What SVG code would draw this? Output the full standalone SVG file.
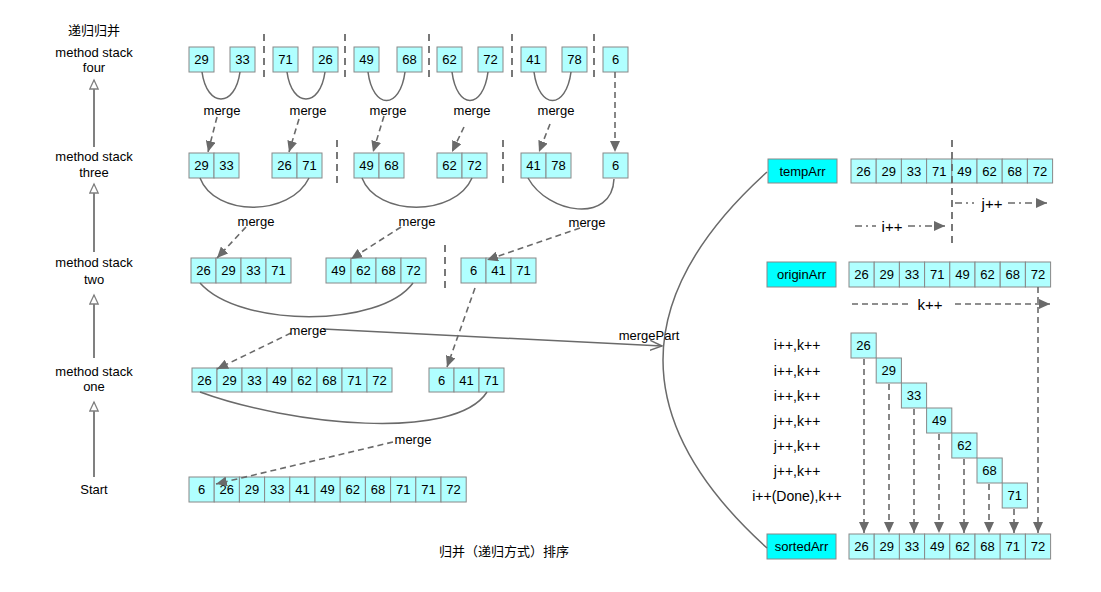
<svg xmlns="http://www.w3.org/2000/svg" width="1101" height="592" viewBox="0 0 1101 592">
<style>
text{font-family:"Liberation Sans","Noto Sans CJK SC",sans-serif;font-size:13px;fill:#000;text-anchor:middle}
.c{fill:#B0FFFF;stroke:#888;stroke-width:1}
.k{fill:#00FFFF;stroke:#888;stroke-width:1}
.big{font-size:15px}
.ops{font-size:14px}
.da{fill:none;stroke:#6A6A6A;stroke-width:1.6;stroke-dasharray:6 4}
.sep{fill:none;stroke:#6A6A6A;stroke-width:1.8;stroke-dasharray:7 5}
.arc{fill:none;stroke:#6A6A6A;stroke-width:1.5}
.dd{fill:none;stroke:#6A6A6A;stroke-width:1.5;stroke-dasharray:7 4 2 4}
.stk{fill:none;stroke:#808080;stroke-width:2}
</style>
<defs>
<marker id="ah" markerUnits="userSpaceOnUse" markerWidth="12" markerHeight="10" refX="11" refY="5" orient="auto"><path d="M0,0 L11,5 L0,10 z" fill="#6A6A6A"/></marker>
<marker id="tri" markerUnits="userSpaceOnUse" markerWidth="12" markerHeight="12" refX="10" refY="5" orient="auto"><path d="M1,0.8 L10,5 L1,9.2 z" fill="#fff" stroke="#808080" stroke-width="1.3"/></marker>
<marker id="vee" markerUnits="userSpaceOnUse" markerWidth="14" markerHeight="12" refX="12" refY="6" orient="auto"><path d="M0,1 L12,6 L0,11" fill="none" stroke="#6A6A6A" stroke-width="1.5"/></marker>
</defs>
<rect width="1101" height="592" fill="#fff"/>

<g id="labels">
<text x="94" y="35">递归归并</text>
<text x="94" y="57">method stack</text><text x="94" y="72">four</text>
<text x="94" y="161">method stack</text><text x="94" y="177">three</text>
<text x="94" y="267">method stack</text><text x="94" y="284">two</text>
<text x="94" y="376">method stack</text><text x="94" y="391">one</text>
<text x="94" y="494">Start</text>
<text x="504" y="556">归并（递归方式）排序</text>
</g>

<g id="row-four">
<rect class="c" x="189" y="47" width="25" height="25"/><text x="201.5" y="64">29</text>
<rect class="c" x="230" y="47" width="25" height="25"/><text x="242.5" y="64">33</text>
<rect class="c" x="273" y="47" width="25" height="25"/><text x="285.5" y="64">71</text>
<rect class="c" x="313" y="47" width="25" height="25"/><text x="325.5" y="64">26</text>
<rect class="c" x="354" y="47" width="25" height="25"/><text x="366.5" y="64">49</text>
<rect class="c" x="397" y="47" width="25" height="25"/><text x="409.5" y="64">68</text>
<rect class="c" x="437" y="47" width="25" height="25"/><text x="449.5" y="64">62</text>
<rect class="c" x="478" y="47" width="25" height="25"/><text x="490.5" y="64">72</text>
<rect class="c" x="521" y="47" width="25" height="25"/><text x="533.5" y="64">41</text>
<rect class="c" x="562" y="47" width="25" height="25"/><text x="574.5" y="64">78</text>
<rect class="c" x="603" y="47" width="25" height="25"/><text x="615.5" y="64">6</text>
</g>

<g id="row-three">
<rect class="c" x="189" y="153" width="25" height="25"/><text x="201.5" y="170">29</text>
<rect class="c" x="214" y="153" width="25" height="25"/><text x="226.5" y="170">33</text>
<rect class="c" x="272" y="153" width="25" height="25"/><text x="284.5" y="170">26</text>
<rect class="c" x="297" y="153" width="25" height="25"/><text x="309.5" y="170">71</text>
<rect class="c" x="354" y="153" width="25" height="25"/><text x="366.5" y="170">49</text>
<rect class="c" x="379" y="153" width="25" height="25"/><text x="391.5" y="170">68</text>
<rect class="c" x="437" y="153" width="25" height="25"/><text x="449.5" y="170">62</text>
<rect class="c" x="462" y="153" width="25" height="25"/><text x="474.5" y="170">72</text>
<rect class="c" x="521" y="153" width="25" height="25"/><text x="533.5" y="170">41</text>
<rect class="c" x="546" y="153" width="25" height="25"/><text x="558.5" y="170">78</text>
<rect class="c" x="603" y="153" width="25" height="25"/><text x="615.5" y="170">6</text>
</g>

<g id="row-two">
<rect class="c" x="191" y="258" width="25" height="25"/><text x="203.5" y="275">26</text>
<rect class="c" x="216" y="258" width="25" height="25"/><text x="228.5" y="275">29</text>
<rect class="c" x="241" y="258" width="25" height="25"/><text x="253.5" y="275">33</text>
<rect class="c" x="266" y="258" width="25" height="25"/><text x="278.5" y="275">71</text>
<rect class="c" x="326" y="258" width="25" height="25"/><text x="338.5" y="275">49</text>
<rect class="c" x="351" y="258" width="25" height="25"/><text x="363.5" y="275">62</text>
<rect class="c" x="376" y="258" width="25" height="25"/><text x="388.5" y="275">68</text>
<rect class="c" x="401" y="258" width="25" height="25"/><text x="413.5" y="275">72</text>
<rect class="c" x="461" y="258" width="25" height="25"/><text x="473.5" y="275">6</text>
<rect class="c" x="486" y="258" width="25" height="25"/><text x="498.5" y="275">41</text>
<rect class="c" x="511" y="258" width="25" height="25"/><text x="523.5" y="275">71</text>
</g>

<g id="row-one">
<rect class="c" x="192" y="368" width="25" height="24"/><text x="204.5" y="385">26</text>
<rect class="c" x="217" y="368" width="25" height="24"/><text x="229.5" y="385">29</text>
<rect class="c" x="242" y="368" width="25" height="24"/><text x="254.5" y="385">33</text>
<rect class="c" x="267" y="368" width="25" height="24"/><text x="279.5" y="385">49</text>
<rect class="c" x="292" y="368" width="25" height="24"/><text x="304.5" y="385">62</text>
<rect class="c" x="317" y="368" width="25" height="24"/><text x="329.5" y="385">68</text>
<rect class="c" x="342" y="368" width="25" height="24"/><text x="354.5" y="385">71</text>
<rect class="c" x="367" y="368" width="25" height="24"/><text x="379.5" y="385">72</text>
<rect class="c" x="429" y="368" width="25" height="24"/><text x="441.5" y="385">6</text>
<rect class="c" x="454" y="368" width="25" height="24"/><text x="466.5" y="385">41</text>
<rect class="c" x="479" y="368" width="25" height="24"/><text x="491.5" y="385">71</text>
</g>

<g id="row-start">
<rect class="c" x="189" y="477" width="25.2" height="25"/><text x="201.6" y="494">6</text>
<rect class="c" x="214.2" y="477" width="25.2" height="25"/><text x="226.8" y="494">26</text>
<rect class="c" x="239.4" y="477" width="25.2" height="25"/><text x="252" y="494">29</text>
<rect class="c" x="264.6" y="477" width="25.2" height="25"/><text x="277.2" y="494">33</text>
<rect class="c" x="289.8" y="477" width="25.2" height="25"/><text x="302.4" y="494">41</text>
<rect class="c" x="315" y="477" width="25.2" height="25"/><text x="327.6" y="494">49</text>
<rect class="c" x="340.2" y="477" width="25.2" height="25"/><text x="352.8" y="494">62</text>
<rect class="c" x="365.4" y="477" width="25.2" height="25"/><text x="378" y="494">68</text>
<rect class="c" x="390.6" y="477" width="25.2" height="25"/><text x="403.2" y="494">71</text>
<rect class="c" x="415.8" y="477" width="25.2" height="25"/><text x="428.4" y="494">71</text>
<rect class="c" x="441" y="477" width="25.2" height="25"/><text x="453.6" y="494">72</text>
</g>

<g id="tempArr">
<rect class="k" x="768" y="159" width="69" height="24"/><text x="802.5" y="175.5">tempArr</text>
<rect class="c" x="851" y="159" width="25.2" height="24"/><text x="863.6" y="175.5">26</text>
<rect class="c" x="876.2" y="159" width="25.2" height="24"/><text x="888.8" y="175.5">29</text>
<rect class="c" x="901.4" y="159" width="25.2" height="24"/><text x="914" y="175.5">33</text>
<rect class="c" x="926.6" y="159" width="25.2" height="24"/><text x="939.2" y="175.5">71</text>
<rect class="c" x="951.8" y="159" width="25.2" height="24"/><text x="964.4" y="175.5">49</text>
<rect class="c" x="977" y="159" width="25.2" height="24"/><text x="989.6" y="175.5">62</text>
<rect class="c" x="1002.2" y="159" width="25.2" height="24"/><text x="1014.8" y="175.5">68</text>
<rect class="c" x="1027.4" y="159" width="25.2" height="24"/><text x="1040" y="175.5">72</text>
</g>

<g id="originArr">
<rect class="k" x="767" y="262" width="69" height="25"/><text x="801.5" y="279">originArr</text>
<rect class="c" x="849" y="262" width="25.2" height="25"/><text x="861.6" y="279">26</text>
<rect class="c" x="874.2" y="262" width="25.2" height="25"/><text x="886.8" y="279">29</text>
<rect class="c" x="899.4" y="262" width="25.2" height="25"/><text x="912" y="279">33</text>
<rect class="c" x="924.6" y="262" width="25.2" height="25"/><text x="937.2" y="279">71</text>
<rect class="c" x="949.8" y="262" width="25.2" height="25"/><text x="962.4" y="279">49</text>
<rect class="c" x="975" y="262" width="25.2" height="25"/><text x="987.6" y="279">62</text>
<rect class="c" x="1000.2" y="262" width="25.2" height="25"/><text x="1012.8" y="279">68</text>
<rect class="c" x="1025.4" y="262" width="25.2" height="25"/><text x="1038" y="279">72</text>
</g>

<g id="steps">
<text class="ops" x="797" y="350">i++,k++</text>
<text class="ops" x="797" y="376">i++,k++</text>
<text class="ops" x="797" y="401">i++,k++</text>
<text class="ops" x="797" y="426">j++,k++</text>
<text class="ops" x="797" y="451">j++,k++</text>
<text class="ops" x="797" y="476">j++,k++</text>
<text class="ops" x="797" y="501">i++(Done),k++</text>
<rect class="c" x="851" y="333" width="25.2" height="25"/><text x="863.6" y="350">26</text>
<rect class="c" x="876.2" y="358" width="25.2" height="25"/><text x="888.8" y="375">29</text>
<rect class="c" x="901.4" y="383" width="25.2" height="25"/><text x="914" y="400">33</text>
<rect class="c" x="926.6" y="408" width="25.2" height="25"/><text x="939.2" y="425">49</text>
<rect class="c" x="951.8" y="433" width="25.2" height="25"/><text x="964.4" y="450">62</text>
<rect class="c" x="977" y="458" width="25.2" height="25"/><text x="989.6" y="475">68</text>
<rect class="c" x="1002.2" y="483" width="25.2" height="25"/><text x="1014.8" y="500">71</text>
</g>

<g id="sortedArr">
<rect class="k" x="767" y="534" width="69" height="25"/><text x="801.5" y="551">sortedArr</text>
<rect class="c" x="849" y="534" width="25.2" height="25"/><text x="861.6" y="551">26</text>
<rect class="c" x="874.2" y="534" width="25.2" height="25"/><text x="886.8" y="551">29</text>
<rect class="c" x="899.4" y="534" width="25.2" height="25"/><text x="912" y="551">33</text>
<rect class="c" x="924.6" y="534" width="25.2" height="25"/><text x="937.2" y="551">49</text>
<rect class="c" x="949.8" y="534" width="25.2" height="25"/><text x="962.4" y="551">62</text>
<rect class="c" x="975" y="534" width="25.2" height="25"/><text x="987.6" y="551">68</text>
<rect class="c" x="1000.2" y="534" width="25.2" height="25"/><text x="1012.8" y="551">71</text>
<rect class="c" x="1025.4" y="534" width="25.2" height="25"/><text x="1038" y="551">72</text>
</g>

<g id="connectors">
<line class="stk" x1="94" y1="147" x2="94" y2="80" marker-end="url(#tri)"/>
<line class="stk" x1="94" y1="252" x2="94" y2="184" marker-end="url(#tri)"/>
<line class="stk" x1="94" y1="358" x2="94" y2="295" marker-end="url(#tri)"/>
<line class="stk" x1="94" y1="477" x2="94" y2="402" marker-end="url(#tri)"/>
<line class="sep" x1="264" y1="34" x2="264" y2="82"/>
<line class="sep" x1="345" y1="34" x2="345" y2="82"/>
<line class="sep" x1="429" y1="34" x2="429" y2="82"/>
<line class="sep" x1="512" y1="34" x2="512" y2="82"/>
<line class="sep" x1="594" y1="34" x2="594" y2="82"/>
<line class="sep" x1="337" y1="140" x2="337" y2="188"/>
<line class="sep" x1="503" y1="140" x2="503" y2="188"/>
<line class="sep" x1="445" y1="245" x2="445" y2="293"/>
<line class="sep" x1="952" y1="140" x2="952" y2="244"/>
<path class="arc" d="M202,72 C207,108 235,108 240,72"/>
<path class="arc" d="M287,72 C292,108 320,108 325,72"/>
<path class="arc" d="M368,72 C373,110 400,110 405,72"/>
<path class="arc" d="M452,72 C457,110 483,110 488,72"/>
<path class="arc" d="M534,72 C539,110 566,110 571,72"/>
<line class="da" x1="217" y1="117" x2="208" y2="152" marker-end="url(#ah)"/>
<line class="da" x1="299" y1="119" x2="289" y2="152" marker-end="url(#ah)"/>
<line class="da" x1="384" y1="116" x2="373" y2="152" marker-end="url(#ah)"/>
<line class="da" x1="464" y1="127" x2="452" y2="152" marker-end="url(#ah)"/>
<line class="da" x1="550" y1="124" x2="539" y2="152" marker-end="url(#ah)"/>
<line class="da" x1="615" y1="72" x2="615" y2="152" marker-end="url(#ah)"/>
<path class="arc" d="M200,178 C215,217 290,217 309,178"/>
<path class="arc" d="M362,178 C377,217 455,217 472,178"/>
<path class="arc" d="M528,178 C548,214 612,224 614,179"/>
<line class="da" x1="246" y1="227" x2="217" y2="258" marker-end="url(#ah)"/>
<line class="da" x1="401" y1="227" x2="351" y2="259" marker-end="url(#ah)"/>
<line class="da" x1="580" y1="228" x2="487" y2="260" marker-end="url(#ah)"/>
<path class="arc" d="M200,283 C240,328 380,328 413,283"/>
<line class="da" x1="291" y1="333" x2="217" y2="369" marker-end="url(#ah)"/>
<line class="da" x1="475" y1="288" x2="447" y2="367" marker-end="url(#ah)"/>
<path class="arc" d="M200,392 C290,425 455,442 487,392"/>
<line class="da" x1="393" y1="442" x2="216" y2="484" marker-end="url(#ah)"/>
<line class="arc" x1="323" y1="329" x2="662" y2="346" marker-end="url(#vee)"/>
<path class="arc" d="M767,172 Q559,360 767,548"/>
<line class="dd" x1="955" y1="203" x2="974" y2="203"/>
<line class="dd" x1="1008" y1="203" x2="1047" y2="203" marker-end="url(#ah)"/>
<line class="dd" x1="855" y1="226" x2="876" y2="226"/>
<line class="dd" x1="908" y1="226" x2="945" y2="226" marker-end="url(#ah)"/>
<line class="da" x1="852" y1="304" x2="912" y2="304"/>
<line class="da" x1="955" y1="304" x2="1050" y2="304" marker-end="url(#ah)"/>
<line class="da" x1="864" y1="359" x2="864" y2="533" marker-end="url(#ah)"/>
<line class="da" x1="889" y1="384" x2="889" y2="533" marker-end="url(#ah)"/>
<line class="da" x1="914" y1="409" x2="914" y2="533" marker-end="url(#ah)"/>
<line class="da" x1="939" y1="434" x2="939" y2="533" marker-end="url(#ah)"/>
<line class="da" x1="964" y1="459" x2="964" y2="533" marker-end="url(#ah)"/>
<line class="da" x1="989" y1="484" x2="989" y2="533" marker-end="url(#ah)"/>
<line class="da" x1="1014" y1="509" x2="1014" y2="533" marker-end="url(#ah)"/>
<line class="da" x1="1038" y1="287" x2="1038" y2="533" marker-end="url(#ah)"/>
</g>

<g id="connector-labels">
<text x="222" y="115">merge</text>
<text x="308" y="115">merge</text>
<text x="388" y="115">merge</text>
<text x="472" y="115">merge</text>
<text x="556" y="115">merge</text>
<text x="256" y="226">merge</text>
<text x="417" y="226">merge</text>
<text x="587" y="227">merge</text>
<text x="308" y="335">merge</text>
<text x="413" y="444">merge</text>
<text x="649" y="340">mergePart</text>
<text class="big" x="992" y="209">j++</text>
<text class="big" x="892" y="232">i++</text>
<text class="big" x="930" y="310">k++</text>
</g>
</svg>
